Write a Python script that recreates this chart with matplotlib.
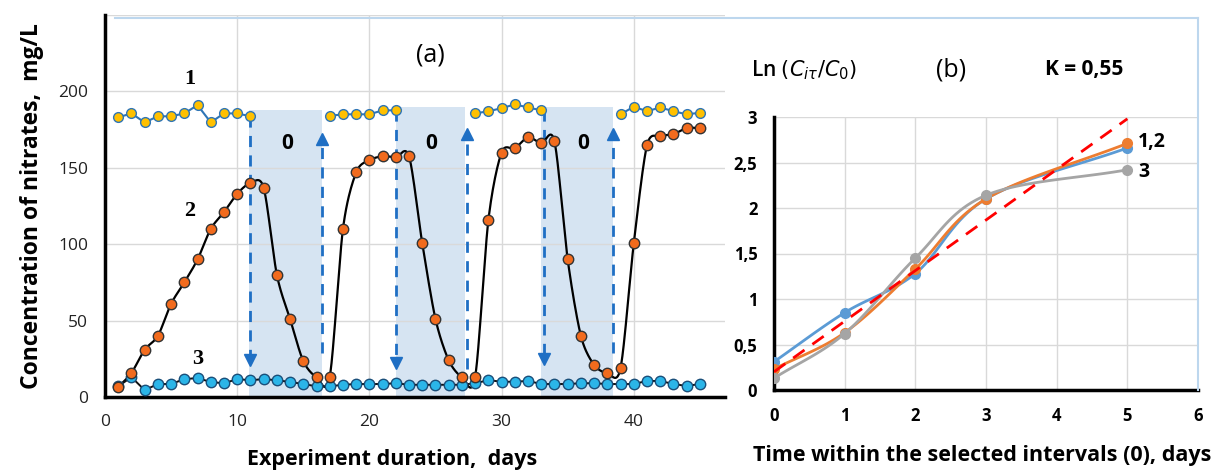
import numpy as np
import matplotlib
matplotlib.use("Agg")
import matplotlib.pyplot as plt
from matplotlib.lines import Line2D

plt.rcParams['font.family'] = ['Open Sans', 'DejaVu Sans']
plt.rcParams['mathtext.fontset'] = 'dejavusans'

# ---------------- data: panel (a) ----------------
days = list(range(1, 46))
s2_vals = [6.5, 15.7, 31, 40, 61, 75, 90, 110, 121, 133,
           140, 137, 80, 51, 23.5, 13, 13, 110, 147, 155,
           157.5, 157, 157.5, 100.6, 51, 24, 13, 13, 115.7, 160,
           162.7, 170, 166, 167.3, 90, 40, 21, 15.7, 19, 100.6,
           164.7, 170.6, 172, 176, 176]
s3_vals = [7, 13, 4.5, 8.5, 8.5, 11.7, 12.4, 9.8, 9, 11.7,
           11, 11.7, 11, 9.8, 8.5, 7, 7, 8, 8.5, 8.5,
           8.5, 9, 8, 8, 8, 8, 8, 9, 11, 10,
           10, 10.5, 8.5, 8.5, 8.5, 9, 9, 8.5, 8.5, 8.5,
           10.5, 10.5, 8.5, 7.2, 8.5]
s1_days = [list(range(1, 12)), list(range(17, 23)), list(range(28, 34)), list(range(39, 46))]
s1_vals = [[183, 185.6, 179.7, 183.7, 183.7, 185.6, 191, 179.7, 185.6, 185.6, 183.7],
           [184, 185, 185, 185, 187.6, 187.6],
           [185.6, 187, 189, 191.5, 189.5, 187.6],
           [185, 190, 187, 189.5, 187, 185, 186]]
# shaded "0" intervals: start, end, top
zone_start = [10.9, 22.0, 33.0]
zone_end = [16.4, 27.2, 38.4]
zone_top = [188, 190, 190]
# dashed arrows
down_x = [11.0, 22.0, 33.2]
down_from = [183.7, 187.6, 187.6]
down_to = [20, 18, 21]
up_x = [16.4, 27.4, 38.4]
up_from = [29, 18, 29]
up_to = [173, 176, 176]

# ---------------- data: panel (b) ----------------
t_b = [0, 1, 2, 3, 5]
b1 = [0.31, 0.85, 1.28, 2.10, 2.66]
b2 = [0.23, 0.63, 1.33, 2.10, 2.71]
b3 = [0.13, 0.62, 1.45, 2.14, 2.42]
fit_x = [0, 5]
fit_y = [0.20, 2.98]


def smooth(x, y, n=20, k=7.0):
    """Bezier smoothing through the points (like Excel smoothed lines)."""
    x = np.asarray(x, float); y = np.asarray(y, float)
    px = np.concatenate([[2 * x[0] - x[1]], x, [2 * x[-1] - x[-2]]])
    py = np.concatenate([[2 * y[0] - y[1]], y, [2 * y[-1] - y[-2]]])
    xs, ys = [], []
    for i in range(1, len(px) - 2):
        t = np.linspace(0, 1, n, endpoint=False)
        p0, p1, p2, p3 = (np.array([px[j], py[j]]) for j in range(i - 1, i + 3))
        c1 = p1 + (p2 - p0) / k
        c2 = p2 - (p3 - p1) / k
        b = ((1 - t) ** 3)[:, None] * p1 + (3 * (1 - t) ** 2 * t)[:, None] * c1 + \
            (3 * (1 - t) * t ** 2)[:, None] * c2 + (t ** 3)[:, None] * p2
        xs.extend(b[:, 0]); ys.extend(b[:, 1])
    xs.append(x[-1]); ys.append(y[-1])
    return np.array(xs), np.array(ys)


W, H = 1216, 471
fig = plt.figure(figsize=(W / 100, H / 100), dpi=100)

# ---------------- panel (a) ----------------
axa = fig.add_axes([105 / W, 1 - 397 / H, 620 / W, 382 / H])
axa.set_xlim(0, 46.9)
axa.set_ylim(0, 250)
axa.set_xticks([0, 10, 20, 30, 40])
axa.set_yticks([0, 50, 100, 150, 200, 250])
axa.set_yticklabels(['0', '50', '100', '150', '200', ''])
axa.grid(True, color='#d9d9d9', lw=1.0, zorder=0)
axa.tick_params(length=0, labelsize=12.5, pad=12, colors='#222222')
for s in ['top', 'right']:
    axa.spines[s].set_visible(False)
for s in ['left', 'bottom']:
    axa.spines[s].set_linewidth(2.5)
    axa.spines[s].set_color('black')

for xs, xe, top in zip(zone_start, zone_end, zone_top):
    axa.fill_between([xs, xe], 0, top, color='#d6e4f2', lw=0, zorder=1)

arrow_c = '#1f6fc4'
for x, y0, y1 in zip(down_x, down_from, down_to):
    axa.plot([x, x], [y0, y1 + 6], ls=(0, (4, 3)), color=arrow_c, lw=2, zorder=2)
    axa.plot([x], [y1 + 4], marker='v', ms=9, color=arrow_c, mec=arrow_c, zorder=2)
for x, y0, y1 in zip(up_x, up_from, up_to):
    axa.plot([x, x], [y0, y1 - 6], ls=(0, (4, 3)), color=arrow_c, lw=2, zorder=2)
    axa.plot([x], [y1 - 4], marker='^', ms=9, color=arrow_c, mec=arrow_c, zorder=2)

# series 1
for dd, vv in zip(s1_days, s1_vals):
    axa.plot(dd, vv, color='#2e75b6', lw=1.5, marker='o', ms=7, mfc='#ffc000',
             mec='#2e75b6', mew=1.0, zorder=4)
# series 2 (smoothed black line)
sx, sy = smooth(days, s2_vals)
axa.plot(sx, sy, color='black', lw=1.6, zorder=3)
axa.plot(days, s2_vals, ls='none', marker='o', ms=7.5, mfc='#f26b1d', mec='#333333',
         mew=1.0, zorder=4)
# series 3
axa.plot(days, s3_vals, color='#111111', lw=1.4, marker='o', ms=7.5, mfc='#2bb5e8',
         mec='#1a4f7a', mew=1.0, zorder=3)

serif = ['Liberation Serif', 'DejaVu Serif']
axa.text(6.4, 208, '1', family=serif, fontweight='bold', fontsize=16, ha='center', va='center')
axa.text(6.4, 122, '2', family=serif, fontweight='bold', fontsize=16, ha='center', va='center')
axa.text(7.0, 25, '3', family=serif, fontweight='bold', fontsize=16, ha='center', va='center')
for x in [13.8, 24.7, 36.2]:
    axa.text(x, 166, '0', fontweight='bold', fontsize=15, ha='center', va='center')
axa.text(24.6, 224, '(a)', fontsize=18, ha='center', va='center')

axa.set_ylabel('Concentration of nitrates,  mg/L', fontsize=16.5, fontweight='bold')
axa.yaxis.set_label_coords(-0.098, 0.5)
fig.text(392 / W, 1 - 459 / H, 'Experiment duration,  days', fontsize=15.5,
         fontweight='bold', ha='center', va='center')

# ---------------- panel (b) ----------------
axb = fig.add_axes([774 / W, 1 - 390 / H, 424 / W, 273 / H])
axb.set_xlim(0, 6)
axb.set_ylim(0, 3)
axb.set_xticks(range(0, 7))
axb.set_yticks([0, 0.5, 1, 1.5, 2, 2.5, 3])
axb.set_yticklabels(['0', '0,5', '1', '1,5', '2', '2,5', '3'])
axb.grid(True, color='#d9d9d9', lw=1.0, zorder=0)
axb.tick_params(length=0, labelsize=12, pad=12)
for lab in axb.get_xticklabels() + axb.get_yticklabels():
    lab.set_fontweight('bold')
for s in ['top', 'right']:
    axb.spines[s].set_visible(False)
for s in ['left', 'bottom']:
    axb.spines[s].set_linewidth(2.5)
    axb.spines[s].set_color('black')

for vals, col in [(b1, '#5b9bd5'), (b2, '#ed7d31'), (b3, '#a5a5a5')]:
    bx, by = smooth(t_b, vals, k=6.0)
    axb.plot(bx, by, color=col, lw=2, zorder=3)
    axb.plot(t_b, vals, ls='none', marker='o', ms=7, color=col, zorder=3)
axb.plot(fit_x, fit_y, color='#ff0000', lw=2, ls=(0, (5, 3.5)), zorder=4)

axb.text(5.15, 2.72, '1,2', fontsize=14, fontweight='bold', va='center', ha='left')
axb.text(5.15, 2.4, '3', fontsize=14, fontweight='bold', va='center', ha='left')

fig.text(751 / W, 1 - 70 / H, r'Ln $(C_{i\tau}/C_0)$', fontsize=15, fontweight='semibold',
         ha='left', va='center')
fig.text(951 / W, 1 - 70 / H, '(b)', fontsize=18, ha='center', va='center')
fig.text(1084 / W, 1 - 70 / H, 'K = 0,55', fontsize=15, fontweight='bold', ha='center', va='center')
fig.text(982 / W, 1 - 455 / H, 'Time within the selected intervals (0), days', fontsize=15.5,
         fontweight='bold', ha='center', va='center')

# chart-area border lines
fig.add_artist(Line2D([115 / W, 1198 / W], [1 - 18 / H, 1 - 18 / H], color='#bdd7ee', lw=1.5))
fig.add_artist(Line2D([1198 / W, 1198 / W], [1 - 18 / H, 1 - 390 / H], color='#bdd7ee', lw=1.5))

fig.savefig('out.png', dpi=100)
